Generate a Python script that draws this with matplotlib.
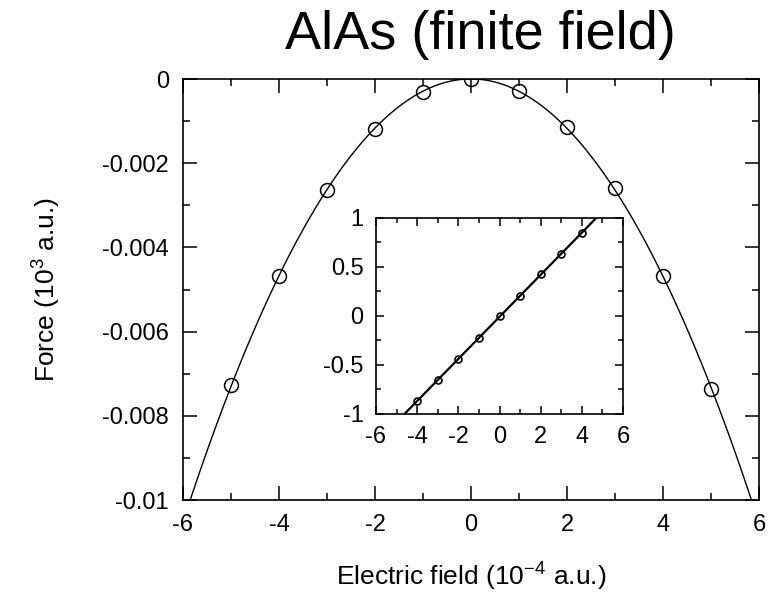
import numpy as np
import matplotlib
matplotlib.use("Agg")
import matplotlib.pyplot as plt
from matplotlib.ticker import MultipleLocator

plt.rcParams['font.family'] = ['Liberation Sans', 'DejaVu Sans']
plt.rcParams['mathtext.fontset'] = 'custom'
plt.rcParams['mathtext.rm'] = 'Liberation Sans'
plt.rcParams['axes.unicode_minus'] = False

# Force vs. electric field (finite-field calculation)
field = [-5, -4, -3, -2, -1, 0, 1, 2, 3, 4, 5]
force = [-0.00727, -0.00468, -0.00264, -0.00119, -0.00031, 0.0,
         -0.00029, -0.00114, -0.00259, -0.00468, -0.00736]

# Inset: linear response
inset_field = [-4, -3, -2, -1, 0, 1, 2, 3, 4]
inset_force = [-0.867, -0.656, -0.441, -0.220, -0.002, 0.203, 0.424, 0.635, 0.847]

fig = plt.figure(figsize=(7.83, 6.02), dpi=100)
ax = fig.add_axes([0.2337, 0.1694, 0.7356, 0.6993])

# quadratic fit through the main data
c2 = np.polyfit(field, force, 2)
xs = np.linspace(-6, 6, 400)
ax.plot(xs, np.polyval(c2, xs), color='black', lw=1.0)
ax.plot(field, force, 'o', mfc='none', mec='black', ms=10, mew=1.1)

ax.set_xlim(-6, 6)
ax.set_ylim(-0.01, 0)
ax.xaxis.set_major_locator(MultipleLocator(2))
ax.xaxis.set_minor_locator(MultipleLocator(1))
ax.yaxis.set_major_locator(MultipleLocator(0.002))
ax.yaxis.set_minor_locator(MultipleLocator(0.001))
ax.yaxis.set_major_formatter(plt.FuncFormatter(lambda v, p: '0' if abs(v) < 1e-12 else ('%g' % v)))
ax.tick_params(which='both', direction='in', top=True, right=True, labelsize=17, width=1.1)
ax.tick_params(which='major', length=10, pad=10)
ax.tick_params(which='minor', length=5)
for s in ax.spines.values():
    s.set_linewidth(1.2)

ax.set_xlabel(r'Electric field (10$^{\mathrm{-}4}$ a.u.)', fontsize=19, labelpad=17)
ax.set_ylabel(r'Force (10$^{3}$ a.u.)', fontsize=19, labelpad=29)
fig.text(0.613, 0.942, 'AlAs (finite field)', fontsize=39, ha='center', va='center')

# inset
ins = fig.add_axes([0.4802, 0.3123, 0.3155, 0.3256])
c1 = np.polyfit(inset_field, inset_force, 1)
ins.plot(xs, np.polyval(c1, xs), color='black', lw=1.6)
ins.plot(inset_field, inset_force, 'o', mfc='none', mec='black', ms=5, mew=1.2)
ins.set_xlim(-6, 6)
ins.set_ylim(-1, 1)
ins.xaxis.set_major_locator(MultipleLocator(2))
ins.xaxis.set_minor_locator(MultipleLocator(1))
ins.yaxis.set_major_locator(MultipleLocator(0.5))
ins.yaxis.set_minor_locator(MultipleLocator(0.25))
ins.yaxis.set_major_formatter(plt.FuncFormatter(lambda v, p: '%g' % v))
ins.tick_params(which='both', direction='in', top=True, right=True, labelsize=17, width=1.1)
ins.tick_params(which='major', length=6, pad=9)
ins.tick_params(which='minor', length=3.5)
for s in ins.spines.values():
    s.set_linewidth(1.2)

fig.savefig('out.png', dpi=100)
